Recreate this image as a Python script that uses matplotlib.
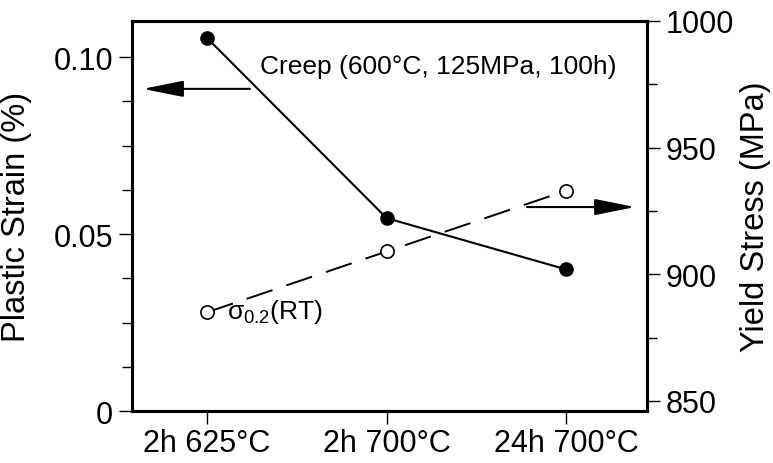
import matplotlib
matplotlib.use('Agg')
import matplotlib.pyplot as plt
from matplotlib.ticker import MultipleLocator
import numpy as np

plt.rcParams['font.family'] = ['Liberation Sans', 'DejaVu Sans']
plt.rcParams['mathtext.fontset'] = 'custom'
plt.rcParams['mathtext.rm'] = 'Liberation Sans'
plt.rcParams['mathtext.it'] = 'Liberation Sans'

# data
conditions = ['2h 625°C', '2h 700°C', '24h 700°C']
creep_strain = [0.1054, 0.0545, 0.0400]    # plastic strain (%), left axis
yield_stress = [885, 909, 933]             # MPa, right axis

x = np.arange(len(conditions))

fig = plt.figure(figsize=(7.73, 4.64), dpi=100)
ax = fig.add_axes([0.1708, 0.112, 0.837 - 0.1708, 0.9526 - 0.112])
ax2 = ax.twinx()

# creep: solid line, filled markers
ax.plot(x, creep_strain, color='black', lw=1.5, marker='o', ms=9.5,
        mfc='black', mec='black', zorder=3)

# yield stress: dashed line, open markers
ax2.plot(x, yield_stress, color='black', lw=1.4, dashes=(14, 7.5),
         marker='o', ms=9.5, mfc='white', mec='black', mew=1.2, zorder=3)

ax.set_xlim(-0.418, 2.45)
ax.set_ylim(0, 0.1102)
ax2.set_ylim(846, 1000)

fs = 22
ax.set_xticks(x)
ax.set_xticklabels(conditions, fontsize=fs)
ax.set_yticks([0, 0.05, 0.10])
ax.set_yticklabels(['0', '0.05', '0.10'], fontsize=fs)
ax.yaxis.set_minor_locator(MultipleLocator(0.0125))
ax2.set_yticks([850, 900, 950, 1000])
ax2.set_yticklabels(['850', '900', '950', '1000'], fontsize=fs)
ax2.yaxis.set_minor_locator(MultipleLocator(25))

for a in (ax, ax2):
    for s in a.spines.values():
        s.set_linewidth(2.2)
    a.tick_params(which='major', direction='out', length=9.5, width=1.0, pad=4)
    a.tick_params(which='minor', direction='out', length=7, width=1.0)
ax.tick_params(axis='x', which='major', length=9.5, pad=3)

ax.set_ylabel('Plastic Strain (%)', fontsize=23.5)
ax.yaxis.set_label_coords(-0.194, 0.5)
ax2.set_ylabel('Yield Stress (MPa)', fontsize=23.5)
ax2.yaxis.set_label_coords(1.1806, 0.5)

arrow_kw = dict(arrowstyle='-|>,head_length=2.5,head_width=0.5', color='black',
                lw=1.5, shrinkA=0, shrinkB=0, mutation_scale=10)
ax.annotate('', xy=(0.021, 0.826), xytext=(0.229, 0.826),
            xycoords='axes fraction', textcoords='axes fraction', arrowprops=arrow_kw)
ax.annotate('', xy=(0.977, 0.523), xytext=(0.767, 0.523),
            xycoords='axes fraction', textcoords='axes fraction', arrowprops=arrow_kw)

ax.text(0.2485, 0.885, 'Creep (600°C, 125MPa, 100h)', transform=ax.transAxes,
        fontsize=19, ha='left', va='center')
ax.text(0.1845, 0.256, r'$\sigma_{0.2}$(RT)', transform=ax.transAxes,
        fontsize=19, ha='left', va='center')

fig.savefig('out.png', dpi=100)
